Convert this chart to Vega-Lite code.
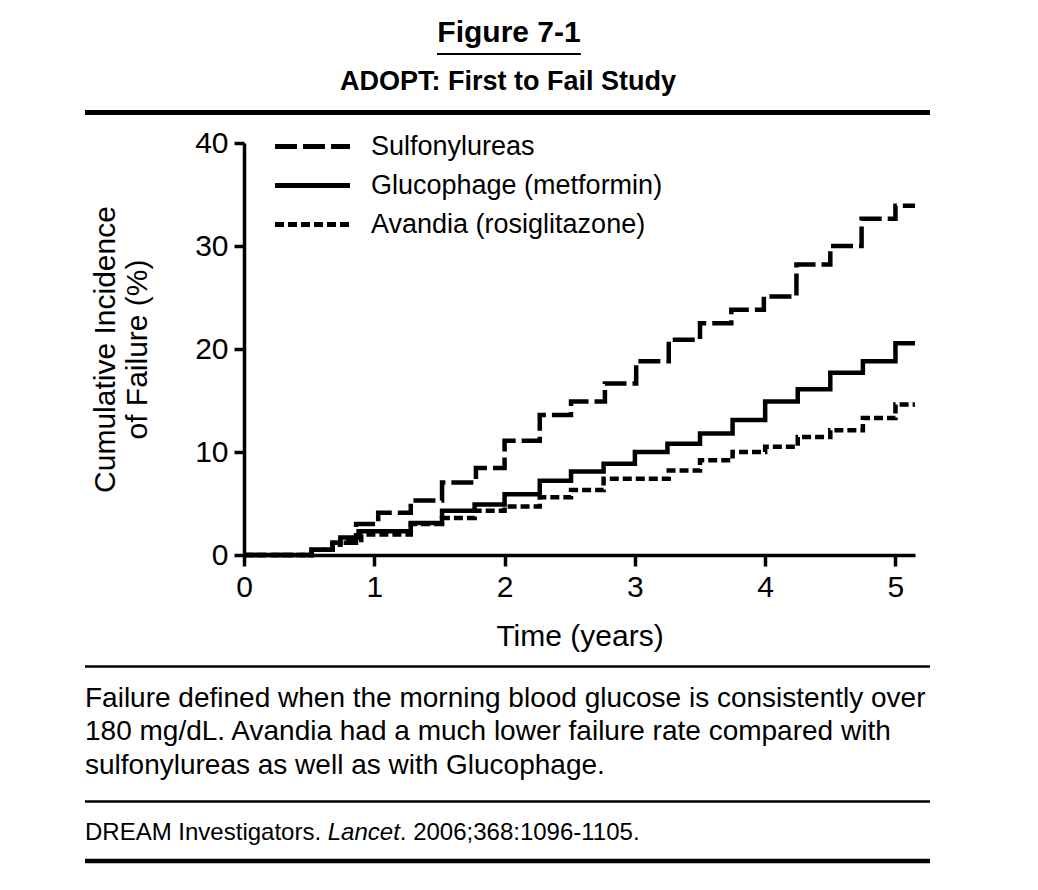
{
  "$schema": "https://vega.github.io/schema/vega-lite/v6.json",
  "autosize": "none",
  "width": 671,
  "height": 412,
  "padding": {"left": 244, "top": 143, "right": 123, "bottom": 335},
  "background": "white",
  "config": {
    "font": "Liberation Sans",
    "view": {"stroke": null},
    "axis": {"grid": false, "domainColor": "black", "tickColor": "black", "labelColor": "black", "titleColor": "black", "domainWidth": 3.5, "tickWidth": 3.5, "labelFont": "Liberation Sans", "titleFont": "Liberation Sans", "titleFontWeight": "normal"},
    "text": {"color": "black", "font": "Liberation Sans"}
  },
  "datasets": {
    "curves": [
      {"t": 0, "v": 0, "drug": "Sulfonylureas"},
      {"t": 0.52, "v": 0.5, "drug": "Sulfonylureas"},
      {"t": 0.68, "v": 1.2, "drug": "Sulfonylureas"},
      {"t": 0.86, "v": 3.0, "drug": "Sulfonylureas"},
      {"t": 1.03, "v": 4.1, "drug": "Sulfonylureas"},
      {"t": 1.28, "v": 5.3, "drug": "Sulfonylureas"},
      {"t": 1.52, "v": 7.05, "drug": "Sulfonylureas"},
      {"t": 1.78, "v": 8.45, "drug": "Sulfonylureas"},
      {"t": 2.0, "v": 11.1, "drug": "Sulfonylureas"},
      {"t": 2.27, "v": 13.6, "drug": "Sulfonylureas"},
      {"t": 2.51, "v": 14.9, "drug": "Sulfonylureas"},
      {"t": 2.77, "v": 16.65, "drug": "Sulfonylureas"},
      {"t": 3.01, "v": 18.8, "drug": "Sulfonylureas"},
      {"t": 3.26, "v": 20.9, "drug": "Sulfonylureas"},
      {"t": 3.5, "v": 22.5, "drug": "Sulfonylureas"},
      {"t": 3.74, "v": 23.8, "drug": "Sulfonylureas"},
      {"t": 3.99, "v": 25.1, "drug": "Sulfonylureas"},
      {"t": 4.24, "v": 28.2, "drug": "Sulfonylureas"},
      {"t": 4.5, "v": 30.0, "drug": "Sulfonylureas"},
      {"t": 4.74, "v": 32.65, "drug": "Sulfonylureas"},
      {"t": 5.0, "v": 33.9, "drug": "Sulfonylureas"},
      {"t": 5.15, "v": 33.9, "drug": "Sulfonylureas"},
      {"t": 0, "v": 0, "drug": "Glucophage (metformin)"},
      {"t": 0.52, "v": 0.5, "drug": "Glucophage (metformin)"},
      {"t": 0.68, "v": 1.2, "drug": "Glucophage (metformin)"},
      {"t": 0.74, "v": 1.7, "drug": "Glucophage (metformin)"},
      {"t": 0.88, "v": 2.3, "drug": "Glucophage (metformin)"},
      {"t": 1.28, "v": 3.1, "drug": "Glucophage (metformin)"},
      {"t": 1.52, "v": 4.3, "drug": "Glucophage (metformin)"},
      {"t": 1.77, "v": 4.9, "drug": "Glucophage (metformin)"},
      {"t": 2.0, "v": 5.9, "drug": "Glucophage (metformin)"},
      {"t": 2.27, "v": 7.2, "drug": "Glucophage (metformin)"},
      {"t": 2.51, "v": 8.1, "drug": "Glucophage (metformin)"},
      {"t": 2.76, "v": 8.85, "drug": "Glucophage (metformin)"},
      {"t": 3.0, "v": 10.0, "drug": "Glucophage (metformin)"},
      {"t": 3.25, "v": 10.8, "drug": "Glucophage (metformin)"},
      {"t": 3.5, "v": 11.8, "drug": "Glucophage (metformin)"},
      {"t": 3.75, "v": 13.1, "drug": "Glucophage (metformin)"},
      {"t": 4.0, "v": 14.9, "drug": "Glucophage (metformin)"},
      {"t": 4.25, "v": 16.1, "drug": "Glucophage (metformin)"},
      {"t": 4.5, "v": 17.7, "drug": "Glucophage (metformin)"},
      {"t": 4.75, "v": 18.8, "drug": "Glucophage (metformin)"},
      {"t": 5.0, "v": 20.55, "drug": "Glucophage (metformin)"},
      {"t": 5.15, "v": 20.55, "drug": "Glucophage (metformin)"},
      {"t": 0, "v": 0, "drug": "Avandia (rosiglitazone)"},
      {"t": 0.52, "v": 0.5, "drug": "Avandia (rosiglitazone)"},
      {"t": 0.68, "v": 1.0, "drug": "Avandia (rosiglitazone)"},
      {"t": 0.74, "v": 1.45, "drug": "Avandia (rosiglitazone)"},
      {"t": 0.9, "v": 2.0, "drug": "Avandia (rosiglitazone)"},
      {"t": 1.28, "v": 3.0, "drug": "Avandia (rosiglitazone)"},
      {"t": 1.52, "v": 3.6, "drug": "Avandia (rosiglitazone)"},
      {"t": 1.77, "v": 4.3, "drug": "Avandia (rosiglitazone)"},
      {"t": 2.0, "v": 4.7, "drug": "Avandia (rosiglitazone)"},
      {"t": 2.27, "v": 5.6, "drug": "Avandia (rosiglitazone)"},
      {"t": 2.51, "v": 6.3, "drug": "Avandia (rosiglitazone)"},
      {"t": 2.76, "v": 7.4, "drug": "Avandia (rosiglitazone)"},
      {"t": 3.26, "v": 8.2, "drug": "Avandia (rosiglitazone)"},
      {"t": 3.5, "v": 9.2, "drug": "Avandia (rosiglitazone)"},
      {"t": 3.75, "v": 10.0, "drug": "Avandia (rosiglitazone)"},
      {"t": 4.0, "v": 10.5, "drug": "Avandia (rosiglitazone)"},
      {"t": 4.25, "v": 11.45, "drug": "Avandia (rosiglitazone)"},
      {"t": 4.5, "v": 12.1, "drug": "Avandia (rosiglitazone)"},
      {"t": 4.75, "v": 13.3, "drug": "Avandia (rosiglitazone)"},
      {"t": 5.0, "v": 14.6, "drug": "Avandia (rosiglitazone)"},
      {"t": 5.15, "v": 14.6, "drug": "Avandia (rosiglitazone)"}
    ]
  },
  "layer": [
    {
      "data": {"name": "curves"},
      "mark": {"type": "line", "interpolate": "step-after", "color": "black", "strokeWidth": 4.5, "strokeCap": "butt"},
      "encoding": {
        "x": {"field": "t", "type": "quantitative", "scale": {"domain": [0, 5.15], "nice": false, "zero": false},
          "axis": {"values": [0, 1, 2, 3, 4, 5], "format": "d", "title": "Time (years)", "labelFontSize": 30, "titleFontSize": 30, "tickSize": 11, "labelPadding": 6, "titlePadding": 19, "labelFlush": false}},
        "y": {"field": "v", "type": "quantitative", "scale": {"domain": [0, 40], "nice": false},
          "axis": {"values": [0, 10, 20, 30, 40], "format": "d", "title": ["Cumulative Incidence", "of Failure (%)"], "labelFontSize": 30, "titleFontSize": 30, "titleLineHeight": 32, "tickSize": 10, "labelPadding": 6, "titlePadding": 42, "labelFlush": false}},
        "strokeDash": {"field": "drug", "type": "nominal",
          "scale": {"domain": ["Sulfonylureas", "Glucophage (metformin)", "Avandia (rosiglitazone)"], "range": [[22, 6], [1, 0], [9, 4]]},
          "legend": {"title": null, "orient": "none", "legendX": 55, "legendY": -10, "labelFontSize": 27, "labelColor": "black", "labelFont": "Liberation Sans", "labelLimit": 0, "symbolType": "M-5,0H5", "symbolSize": 225, "symbolStrokeWidth": 5, "symbolStrokeColor": "black", "symbolFillColor": "transparent", "labelOffset": 45, "rowPadding": 11, "padding": 0}}
      }
    },
    {
      "data": {"values": [{}]},
      "mark": {"type": "text", "text": "Figure 7-1", "fontSize": 30, "fontWeight": "bold", "align": "center", "baseline": "alphabetic"},
      "encoding": {"x": {"datum": 2.034, "type": "quantitative", "scale": {"domain": [0, 5.15]}}, "y": {"datum": 49.83, "type": "quantitative", "scale": {"domain": [0, 40]}}}
    },
    {
      "data": {"values": [{}]},
      "mark": {"type": "rule", "color": "black", "strokeWidth": 2},
      "encoding": {"x": {"datum": 1.481, "type": "quantitative", "scale": {"domain": [0, 5.15]}}, "x2": {"datum": 2.586}, "y": {"datum": 48.64, "type": "quantitative", "scale": {"domain": [0, 40]}}}
    },
    {
      "data": {"values": [{}]},
      "mark": {"type": "text", "text": "ADOPT: First to Fail Study", "fontSize": 27, "fontWeight": "bold", "align": "center", "baseline": "alphabetic"},
      "encoding": {"x": {"datum": 2.026, "type": "quantitative", "scale": {"domain": [0, 5.15]}}, "y": {"datum": 45.15, "type": "quantitative", "scale": {"domain": [0, 40]}}}
    },
    {
      "data": {"values": [{}]},
      "mark": {"type": "rule", "color": "black", "strokeWidth": 5},
      "encoding": {"x": {"datum": -1.2203, "type": "quantitative", "scale": {"domain": [0, 5.15]}}, "x2": {"datum": 5.2648}, "y": {"datum": 42.96, "type": "quantitative", "scale": {"domain": [0, 40]}}}
    },
    {
      "data": {"values": [{}]},
      "mark": {"type": "rule", "color": "black", "strokeWidth": 2.5},
      "encoding": {"x": {"datum": -1.2203, "type": "quantitative", "scale": {"domain": [0, 5.15]}}, "x2": {"datum": 5.2648}, "y": {"datum": -10.83, "type": "quantitative", "scale": {"domain": [0, 40]}}}
    },
    {
      "data": {"values": [{}]},
      "mark": {"type": "text", "text": ["Failure defined when the morning blood glucose is consistently over", "180 mg/dL. Avandia had a much lower failure rate compared with", "sulfonylureas as well as with Glucophage."], "fontSize": 28, "lineHeight": 33.5, "align": "left", "baseline": "alphabetic"},
      "encoding": {"x": {"datum": -1.2203, "type": "quantitative", "scale": {"domain": [0, 5.15]}}, "y": {"datum": -14.71, "type": "quantitative", "scale": {"domain": [0, 40]}}}
    },
    {
      "data": {"values": [{}]},
      "mark": {"type": "rule", "color": "black", "strokeWidth": 2.5},
      "encoding": {"x": {"datum": -1.2203, "type": "quantitative", "scale": {"domain": [0, 5.15]}}, "x2": {"datum": 5.2648}, "y": {"datum": -23.93, "type": "quantitative", "scale": {"domain": [0, 40]}}}
    },
    {
      "data": {"values": [{}]},
      "mark": {"type": "text", "text": "DREAM Investigators.", "fontSize": 24, "align": "left", "baseline": "alphabetic"},
      "encoding": {"x": {"datum": -1.2203, "type": "quantitative", "scale": {"domain": [0, 5.15]}}, "y": {"datum": -27.67, "type": "quantitative", "scale": {"domain": [0, 40]}}}
    },
    {
      "data": {"values": [{}]},
      "mark": {"type": "text", "text": "Lancet", "fontSize": 24, "fontStyle": "italic", "align": "left", "baseline": "alphabetic"},
      "encoding": {"x": {"datum": 0.6427, "type": "quantitative", "scale": {"domain": [0, 5.15]}}, "y": {"datum": -27.67, "type": "quantitative", "scale": {"domain": [0, 40]}}}
    },
    {
      "data": {"values": [{}]},
      "mark": {"type": "text", "text": ". 2006;368:1096-1105.", "fontSize": 24, "align": "left", "baseline": "alphabetic"},
      "encoding": {"x": {"datum": 1.1957, "type": "quantitative", "scale": {"domain": [0, 5.15]}}, "y": {"datum": -27.67, "type": "quantitative", "scale": {"domain": [0, 40]}}}
    },
    {
      "data": {"values": [{}]},
      "mark": {"type": "rule", "color": "black", "strokeWidth": 4.5},
      "encoding": {"x": {"datum": -1.2203, "type": "quantitative", "scale": {"domain": [0, 5.15]}}, "x2": {"datum": 5.2648}, "y": {"datum": -29.71, "type": "quantitative", "scale": {"domain": [0, 40]}}}
    }
  ]
}
